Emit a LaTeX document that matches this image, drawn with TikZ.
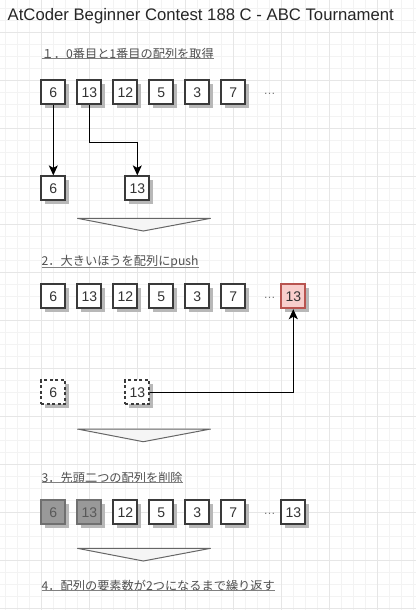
\documentclass[tikz,border=0pt]{standalone}
\usepackage{fontspec}
\setmainfont{Liberation Sans}
\newfontfamily\jp{Noto Sans CJK JP}
\usetikzlibrary{arrows.meta,shadows}
\definecolor{gridmin}{HTML}{F3F3F3}
\definecolor{gridmaj}{HTML}{E6E6E6}
\definecolor{boxline}{HTML}{3A3A3A}
\definecolor{shade}{HTML}{B8B8B8}
\definecolor{pushfill}{HTML}{F8CECC}
\definecolor{pushline}{HTML}{B85450}
\definecolor{delfill}{HTML}{999999}
\definecolor{delline}{HTML}{707070}
\definecolor{chevfill}{HTML}{F5F5F5}
\definecolor{chevline}{HTML}{666666}
\definecolor{labtext}{HTML}{505050}
\begin{document}
\begin{tikzpicture}[x=1pt, y=-1pt,
  box/.style={shape=rectangle, draw=boxline, fill=white, line width=1.8pt, minimum size=24pt, inner sep=0pt,
    text=black!80, font=\fontsize{14}{16}\selectfont,
    drop shadow={fill=shade, shadow xshift=3.2pt, shadow yshift=-3.2pt, opacity=1}},
  dbox/.style={box, dash pattern=on 3pt off 2.5pt},
  pbox/.style={box, draw=pushline, fill=pushfill},
  gbox/.style={box, draw=delline, fill=delfill, text=black!65},
  dots/.style={text=black!55, font=\fontsize{12}{14}\selectfont, inner sep=0pt},
  lab/.style={anchor=west, inner sep=0pt, text=labtext, font=\jp\fontsize{12.2}{15}\selectfont},
  uline/.style={draw=black!50, line width=1.2pt},
  chev/.style={fill=chevfill, draw=chevline, line width=1pt, line join=miter},
  arr/.style={-{Stealth[length=10pt, width=9pt, inset=2.5pt]}, line width=1.3pt, black}]
\useasboundingbox (0,0) rectangle (416,610);
% grid
\fill[white] (0,0) rectangle (416,610);
\foreach \i in {0,...,34} \draw[gridmin, line width=0.8pt] ({5.3+12*\i},0) -- ({5.3+12*\i},610);
\foreach \j in {0,...,50} \draw[gridmin, line width=0.8pt] (0,{8.3+12*\j}) -- (416,{8.3+12*\j});
\foreach \i in {0,...,7} \draw[gridmaj, line width=0.9pt] ({41.3+48*\i},0) -- ({41.3+48*\i},610);
\foreach \j in {0,...,12} \draw[gridmaj, line width=0.9pt] (0,{32.3+48*\j}) -- (416,{32.3+48*\j});
% title
\node[inner sep=0pt, anchor=west, text=black!85, font=\fontsize{16.7}{19}\selectfont] (title) at (7.5,16) {AtCoder Beginner Contest 188 C - ABC Tournament};
% step 1
\node[lab] (L1) at (41.5,54) {１．0番目と1番目の配列を取得};
\draw[uline] ([yshift=1.5pt]L1.south west) -- ([yshift=1.5pt]L1.south east);
\node[box] (a0) at (53.3,92.3) {6};
\node[box] (a1) at (89.3,92.3) {13};
\node[box] (a2) at (125.3,92.3) {12};
\node[box] (a3) at (161.3,92.3) {5};
\node[box] (a4) at (197.3,92.3) {3};
\node[box] (a5) at (233.3,92.3) {7};
\node[dots] (ad) at (269.5,94) {…};
\node[box] (x0) at (53.3,188.3) {6};
\node[box] (x1) at (137.3,188.3) {13};
\draw[arr] (a0) -- (x0);
\draw[arr] (a1.south) -- ++(0,37) -| (x1.north);
\draw[chev] (77.3,218.3) -- (210.7,218.3) -- (143.3,231) -- cycle;
% step 2
\node[lab] (L2) at (41.5,262) {2．大きいほうを配列にpush};
\draw[uline] ([yshift=1.5pt]L2.south west) -- ([yshift=1.5pt]L2.south east);
\node[box] (b0) at (53.3,296.3) {6};
\node[box] (b1) at (89.3,296.3) {13};
\node[box] (b2) at (125.3,296.3) {12};
\node[box] (b3) at (161.3,296.3) {5};
\node[box] (b4) at (197.3,296.3) {3};
\node[box] (b5) at (233.3,296.3) {7};
\node[dots] (bd) at (269.5,298) {…};
\node[pbox] (b6) at (293.3,296.3) {13};
\node[dbox] (y0) at (53.3,392.3) {6};
\node[dbox] (y1) at (137.3,392.3) {13};
\draw[arr] (y1.east) -| (b6.south);
\draw[chev] (77.3,429) -- (210.7,429) -- (143.3,441.7) -- cycle;
% step 3
\node[lab] (L3) at (41.5,478) {3．先頭二つの配列を削除};
\draw[uline] ([yshift=1.5pt]L3.south west) -- ([yshift=1.5pt]L3.south east);
\node[gbox] (c0) at (53.3,512.3) {6};
\node[gbox] (c1) at (89.3,512.3) {13};
\node[box] (c2) at (125.3,512.3) {12};
\node[box] (c3) at (161.3,512.3) {5};
\node[box] (c4) at (197.3,512.3) {3};
\node[box] (c5) at (233.3,512.3) {7};
\node[dots] (cd) at (269.5,514) {…};
\node[box] (c6) at (293.3,512.3) {13};
\draw[chev] (77.3,548.3) -- (210.7,548.3) -- (143.3,561) -- cycle;
% step 4
\node[lab] (L4) at (41.5,586) {4．配列の要素数が2つになるまで繰り返す};
\draw[uline] ([yshift=1.5pt]L4.south west) -- ([yshift=1.5pt]L4.south east);
\end{tikzpicture}
\end{document}
